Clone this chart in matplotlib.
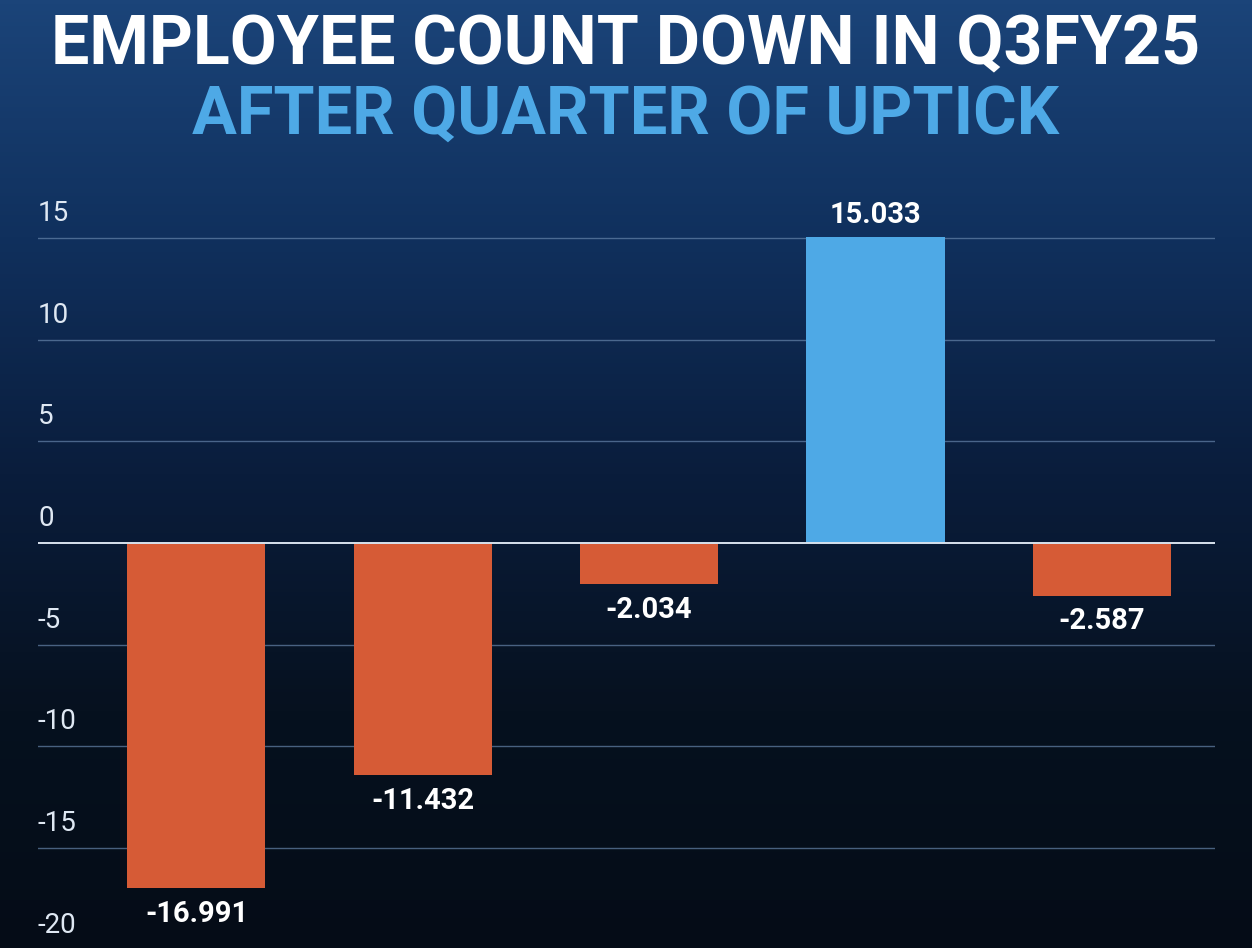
import numpy as np
import matplotlib.pyplot as plt
from matplotlib.colors import LinearSegmentedColormap

# data
quarters = ['Q3FY24', 'Q4FY24', 'Q1FY25', 'Q2FY25', 'Q3FY25']
change = [-16.991, -11.432, -2.034, 15.033, -2.587]
ticks = [15, 10, 5, 0, -5, -10, -15, -20]
title_1 = 'EMPLOYEE COUNT DOWN IN Q3FY25'
title_2 = 'AFTER QUARTER OF UPTICK'

ORANGE = '#d65b36'
BLUE = '#4ea9e6'


def main():
    plt.rcParams['font.family'] = ['Roboto', 'DejaVu Sans']
    fig = plt.figure(figsize=(12.52, 9.48), dpi=100)

    # background gradient
    bg = fig.add_axes([0, 0, 1, 1], zorder=0)
    cmap = LinearSegmentedColormap.from_list(
        'bg', ['#1b4479', '#10305d', '#0a1d3c', '#06111f', '#050c17'])
    grad = np.linspace(0, 1, 256).reshape(-1, 1)
    bg.imshow(grad, aspect='auto', cmap=cmap, extent=[0, 1, 0, 1])
    bg.axis('off')

    # plot axes: x from 38 to 1215 px, y from 230 to 948 px
    ax = fig.add_axes([38 / 1252, 0, 1177 / 1252, (948 - 230) / 948], zorder=1)
    ax.patch.set_alpha(0)
    x = np.arange(len(quarters))
    colors = [BLUE if v > 0 else ORANGE for v in change]
    ax.bar(x, change, width=0.61, color=colors, zorder=2)

    ax.set_xlim(-0.7, 4.5)
    ax.set_ylim(-19.92, 15.4)
    for s in ax.spines.values():
        s.set_visible(False)
    ax.set_xticks([])
    ax.set_yticks([])

    for t in ticks:
        if t == 0:
            ax.axhline(0, color='#d8e2ee', lw=1.4, zorder=3)
        elif t > -20:
            ax.axhline(t, color='#6684aa', lw=1.0, alpha=0.7, zorder=1)
        ax.annotate(str(t), xy=(0, t), xycoords=('axes fraction', 'data'),
                    xytext=(0, 8), textcoords='offset points',
                    ha='left', va='bottom', color='#dfe8f3',
                    fontsize=20, annotation_clip=False)

    for xi, v in zip(x, change):
        off = 6 if v > 0 else -8
        ax.annotate(f'{v:.3f}', xy=(xi, v), xytext=(0, off),
                    textcoords='offset points', ha='center',
                    va='bottom' if v > 0 else 'top',
                    color='white', fontsize=21, fontweight='bold',
                    annotation_clip=False)

    fig.text(0.5, 0.952, title_1, ha='center', va='center', color='white',
             fontsize=49, fontweight='bold')
    fig.text(0.5, 0.878, title_2, ha='center', va='center', color=BLUE,
             fontsize=48, fontweight='bold')

    fig.savefig('out.png', dpi=100)


if __name__ == "__main__":
    main()
